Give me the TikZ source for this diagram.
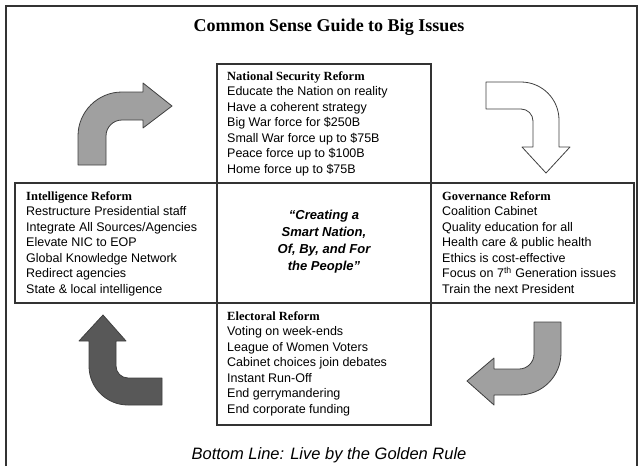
\documentclass[tikz,border=0pt]{standalone}
\usepackage{fontspec}
\setmainfont{Liberation Sans}
\newfontfamily\serifhead{Liberation Serif}
\usetikzlibrary{positioning}
\definecolor{linegray}{HTML}{333333}
\definecolor{arrowlight}{HTML}{A0A0A0}
\definecolor{arrowdark}{HTML}{585858}
\tikzset{
  reformtext/.style={anchor=north west,align=left,inner sep=0pt,font=\fontsize{12.5}{15.5}\selectfont},
  quotetext/.style={align=center,inner sep=0pt,font=\fontsize{13}{17}\selectfont\bfseries\itshape},
  turnarrow/.style={draw=black!75,line width=0.8pt,line join=round}
}
\newcommand{\reformhead}[1]{{\serifhead\bfseries #1}}

\begin{document}
\begin{tikzpicture}[x=1pt,y=-1pt]
  \useasboundingbox (0,0) rectangle (642,466);

    % Define the grid of the cross
    \def\colL{217}    % left side of the middle column
    \def\colR{431}    % right side of the middle column
    \def\bandT{183}   % top of the middle band
    \def\bandB{303}   % bottom of the middle band

    % -- Outer frame (open at the bottom) --
    \draw[linegray,line width=1.2pt] (6,466) -- (6,6) -- (637,6) -- (637,466);

    % -- Title --
    \node (title) at (329,27) {\serifhead\bfseries\fontsize{18}{20}\selectfont Common Sense Guide to Big Issues};

    % -- The cross of boxes --
    \draw[linegray,line width=1.1pt] (15,\bandT) rectangle (634,\bandB);   % middle band
    \draw[linegray,line width=1.1pt] (\colL,64) rectangle (\colR,425);     % middle column

    % -- Box texts --
    \node[reformtext] (natsec) at (227,71) {\reformhead{National Security Reform}\\
      Educate the Nation on reality\\
      Have a coherent strategy\\
      Big War force for \$250B\\
      Small War force up to \$75B\\
      Peace force up to \$100B\\
      Home force up to \$75B};
    \node[reformtext] (intel) at (26,191) {\reformhead{Intelligence Reform}\\
      Restructure Presidential staff\\
      Integrate All Sources/Agencies\\
      Elevate NIC to EOP\\
      Global Knowledge Network\\
      Redirect agencies\\
      State \& local intelligence};
    \node[reformtext] (gov) at (442,191) {\reformhead{Governance Reform}\\
      Coalition Cabinet\\
      Quality education for all\\
      Health care \& public health\\
      Ethics is cost-effective\\
      Focus on 7\textsuperscript{th} Generation issues\\
      Train the next President};
    \node[reformtext] (elect) at (227,311) {\reformhead{Electoral Reform}\\
      Voting on week-ends\\
      League of Women Voters\\
      Cabinet choices join debates\\
      Instant Run-Off\\
      End gerrymandering\\
      End corporate funding};

    % -- Centre cell --
    \node[quotetext] (motto) at (324,242) {“Creating a\\ Smart Nation,\\ Of, By, and For\\ the People"};

    % -- Curved arrows, clockwise round the cross --
    % top left, pointing right
    \filldraw[turnarrow,fill=arrowlight] (78,165) -- (78,136) arc[start angle=180,end angle=270,radius=44]
      -- (143,92) -- (143,83) -- (172,106) -- (143,128) -- (143,120) -- (122,120)
      arc[start angle=270,end angle=180,radius=16] -- (106,165) -- cycle;
    % top right, pointing down
    \filldraw[turnarrow,fill=white] (486,82) -- (521,82) arc[start angle=270,end angle=360,radius=38]
      -- (559,147) -- (570,147) -- (546,173) -- (522,147) -- (533,147) -- (533,121)
      arc[start angle=0,end angle=-90,radius=12] -- (486,109) -- cycle;
    % bottom right, pointing left
    \filldraw[turnarrow,fill=arrowlight] (534,322) -- (561,322) -- (561,353) arc[start angle=0,end angle=90,radius=42]
      -- (494,395) -- (494,405) -- (467,381) -- (494,358) -- (494,369) -- (519,369)
      arc[start angle=90,end angle=0,radius=15] -- cycle;
    % bottom left, pointing up
    \filldraw[turnarrow,fill=arrowdark] (103,315) -- (126,341) -- (116,341) -- (116,366)
      arc[start angle=180,end angle=90,radius=12] -- (162,378) -- (162,405) -- (128,405)
      arc[start angle=90,end angle=180,radius=39] -- (89,341) -- (79,341) -- cycle;

    % -- Bottom line --
    \node (bottomline) at (329,455) {\itshape\fontsize{16.5}{18}\selectfont Bottom Line: Live by the Golden Rule};

\end{tikzpicture}
\end{document}
